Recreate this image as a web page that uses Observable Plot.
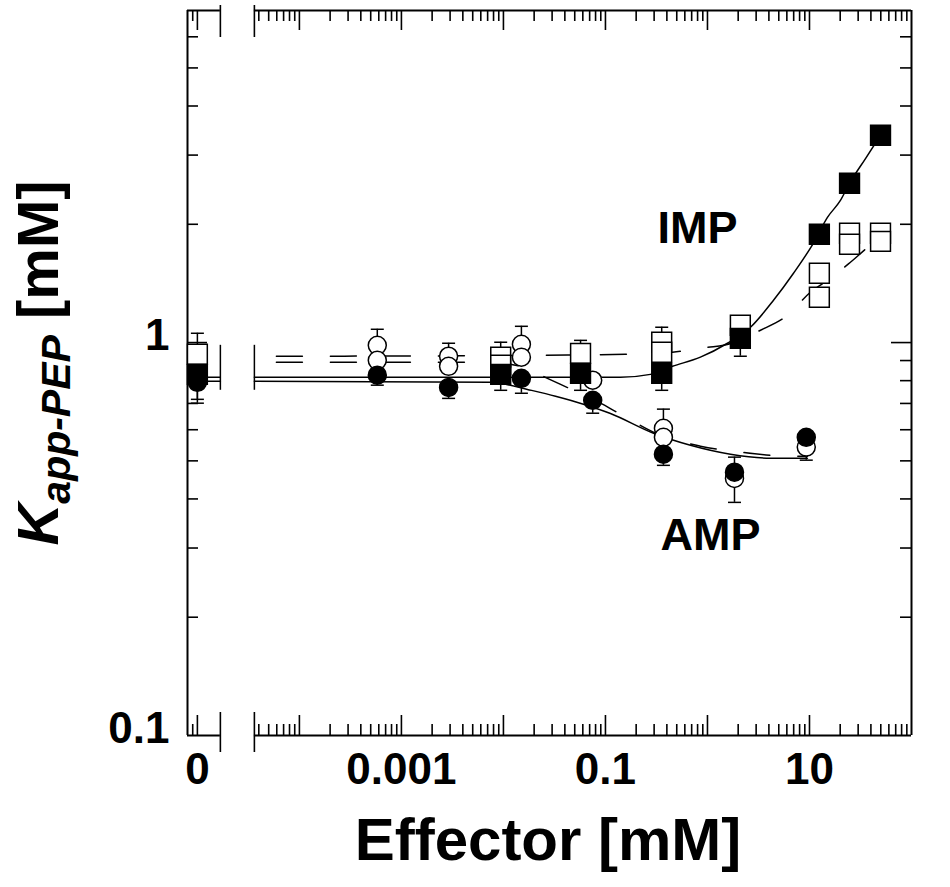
<!DOCTYPE html>
<html>
<head>
<meta charset="utf-8">
<script src="https://cdn.jsdelivr.net/npm/d3@7"></script>
<script src="https://cdn.jsdelivr.net/npm/@observablehq/plot@0.6"></script>
<style>
  html, body { margin: 0; padding: 0; background: #fff; }
  svg { display: block; }
</style>
</head>
<body>
<div id="chart"></div>
<script>
const FONT = "'Liberation Sans', Arial, Helvetica, sans-serif";

// ---- axis definition (broken log axis: "0" drawn at zeroPos) ----
const xMin = 8e-6, xMax = 100, yMin = 0.1, yMax = 7;
const zeroPos = 1e-5;
const breakLo = 1.68e-5, breakHi = 3.62e-5;
const xTickValues = [0, 0.001, 0.1, 10];
const xTickLabels = ["0", "0.001", "0.1", "10"];
const yTickValues = [0.1, 1];
const yTickLabels = ["0.1", "1"];
const xMajor = [1e-5, 1e-4, 1e-3, 1e-2, 1e-1, 1, 10];
const yMajor = [1];

// ---- data: IMP, filled squares ----
const impFilledX   = [0, 0.0094, 0.057, 0.356, 2.1, 12.5, 24.7, 49.7];
const impFilledY   = [0.830, 0.830, 0.835, 0.835, 1.025, 1.887, 2.543, 3.369];
const impFilledErr = [0.717, 0.756, 0.756, 0.756, 0.923, null, null, null];

// ---- data: IMP, open squares ----
const impOpenX   = [0, 0.0094, 0.0094, 0.057, 0.356, 0.356, 2.1, 12.5, 12.5, 24.7, 24.7, 49.7, 49.7];
const impOpenY   = [0.934, 0.918, 0.876, 0.939, 1.002, 0.945, 1.107, 1.501, 1.304, 1.898, 1.779, 1.898, 1.810];
const impOpenErr = [1.056, 1.002, null, 1.013, 1.094, null, null, null, null, null, null, null, null];

// ---- data: AMP, filled circles ----
const ampFilledX   = [0, 0.00058, 0.0029, 0.015, 0.075, 0.37, 1.84, 9.3];
const ampFilledY   = [0.792, 0.826, 0.769, 0.811, 0.713, 0.520, 0.468, 0.574];
const ampFilledErr = [0.701, 0.779, 0.721, 0.743, 0.661, 0.487, 0.392, null];

// ---- data: AMP, open circles ----
const ampOpenX   = [0, 0.00058, 0.00058, 0.0029, 0.0029, 0.015, 0.015, 0.075, 0.37, 0.37, 1.84, 9.3];
const ampOpenY   = [0.896, 0.984, 0.901, 0.923, 0.870, 0.990, 0.918, 0.802, 0.605, 0.574, 0.451, 0.542];
const ampOpenErr = [null, 1.081, null, 0.996, null, 1.100, null, null, 0.677, null, 0.511, 0.502];

// ---- fitted curves (NaN = gap at the axis break) ----
const impSolidX = [0, 1.68e-5, NaN, 3.62e-5, 0.140, 0.276, 0.454, 0.853, 1.57, 2.64, 4.44, 6.97, 10.9, 15.0, 20.1, 24.7, 35.4, 49.7];
const impSolidY = [0.816, 0.816, NaN, 0.816, 0.816, 0.830, 0.870, 0.918, 0.996, 1.094, 1.281, 1.501, 1.789, 2.083, 2.30, 2.543, 2.94, 3.37];
const ampSolidX = [0, 1.68e-5, NaN, 3.62e-5, 0.00746, 0.0105, 0.0172, 0.0324, 0.0608, 0.112, 0.296, 0.681, 1.68, 4.15, 9.55];
const ampSolidY = [0.797, 0.797, NaN, 0.797, 0.792, 0.783, 0.760, 0.730, 0.697, 0.660, 0.588, 0.548, 0.520, 0.508, 0.508];
const impDashX = [3.62e-5, 0.00302, 0.0258, 0.157, 0.454, 1.0, 1.44, 3.31, 6.08, 10.2, 16.1, 25.2, 39.6, 49.7];
const impDashY = [0.923, 0.925, 0.928, 0.934, 0.945, 0.973, 0.984, 1.075, 1.173, 1.343, 1.458, 1.601, 1.769, 1.842];
const ampDashX = [3.62e-5, 0.00596, 0.0117, 0.0184, 0.027, 0.0485, 0.0935, 0.157, 0.346, 0.853, 2.11, 6.51, 9.55];
const ampDashY = [0.891, 0.891, 0.881, 0.850, 0.811, 0.756, 0.697, 0.646, 0.581, 0.545, 0.526, 0.514, 0.514];
const curveBreakY = [0.984, 0.756];

// ---- annotations ----
const annText = ["IMP", "AMP"];
const annX = [0.80, 1.07];
const annY = [1.95, 0.323];

// ---------------------------------------------------------------
const W = 950, H = 887;
const mL = 187, mR = 39, mT = 10, mB = 152;
const frameW = W - mL - mR, frameH = H - mT - mB;

const xpos = (v) => (v === 0 ? zeroPos : v);
const rows = (xs, ys, errs) => xs.map((x, i) => ({x: xpos(x), y: ys[i], err: errs ? errs[i] : null}));
const curve = (xs, ys) => xs.map((x, i) => ({x: Number.isNaN(x) ? NaN : xpos(x), y: ys[i]}));

const impFilled = rows(impFilledX, impFilledY, impFilledErr);
const impOpen = rows(impOpenX, impOpenY, impOpenErr);
const ampFilled = rows(ampFilledX, ampFilledY, ampFilledErr);
const ampOpen = rows(ampOpenX, ampOpenY, ampOpenErr);
const errRows = [...impFilled, ...impOpen, ...ampFilled, ...ampOpen].filter(d => d.err != null);

// minor tick positions
const xMinor = [9e-6];
for (let e = -5; e <= 1; e++) for (let m = 2; m <= 9; m++) {
  const v = m * Math.pow(10, e);
  if (v > breakHi && v < xMax) xMinor.push(v);
}
const yMinor = [];
for (let e = -1; e <= 0; e++) for (let m = 2; m <= 9; m++) {
  const v = m * Math.pow(10, e);
  if (v < yMax) yMinor.push(v);
}
const frameSegs = [{x1: xMin, x2: breakLo}, {x1: breakHi, x2: xMax}];

const capSymbol = {
  draw(ctx, size) {
    const w = Math.sqrt(size / Math.PI);
    ctx.moveTo(-w, 0);
    ctx.lineTo(w, 0);
  }
};

const TW = 1.6; // tick stroke
const plot = Plot.plot({
  width: W, height: H,
  marginLeft: mL, marginRight: mR, marginTop: mT, marginBottom: mB,
  x: {type: "log", domain: [xMin, xMax], axis: null},
  y: {type: "log", domain: [yMin, yMax], axis: null},
  style: {fontFamily: FONT, background: "white", color: "black"},
  marks: [
    // frame
    Plot.ruleX([xMin, xMax], {x: d => d, stroke: "black", strokeWidth: 2}),
    Plot.ruleY(frameSegs, {x1: "x1", x2: "x2", y: () => yMax, stroke: "black", strokeWidth: 2}),
    Plot.ruleY(frameSegs, {x1: "x1", x2: "x2", y: () => yMin, stroke: "black", strokeWidth: 2}),
    // x ticks (inward, top & bottom)
    Plot.tickX(xMinor, {x: d => d, insetBottom: frameH - 11, stroke: "black", strokeWidth: TW}),
    Plot.tickX(xMajor, {x: d => d, insetBottom: frameH - 20, stroke: "black", strokeWidth: TW}),
    Plot.tickX(xMinor, {x: d => d, insetTop: frameH - 11, stroke: "black", strokeWidth: TW}),
    Plot.tickX(xMajor, {x: d => d, insetTop: frameH - 20, stroke: "black", strokeWidth: TW}),
    // y ticks (inward, left & right)
    Plot.tickY(yMinor, {y: d => d, insetRight: frameW - 11, stroke: "black", strokeWidth: TW}),
    Plot.tickY(yMajor, {y: d => d, insetRight: frameW - 20, stroke: "black", strokeWidth: TW}),
    Plot.tickY(yMinor, {y: d => d, insetLeft: frameW - 11, stroke: "black", strokeWidth: TW}),
    Plot.tickY(yMajor, {y: d => d, insetLeft: frameW - 20, stroke: "black", strokeWidth: TW}),
    // axis break markers
    Plot.tickX([breakLo, breakHi], {x: d => d, insetTop: -5, insetBottom: frameH - 27, stroke: "black", strokeWidth: TW}),
    Plot.tickX([breakLo, breakHi], {x: d => d, insetTop: frameH - 23, insetBottom: -17, stroke: "black", strokeWidth: TW}),
    // curve break markers
    Plot.ruleX([breakLo, breakHi], {x: d => d, y1: () => curveBreakY[0], y2: () => curveBreakY[1], stroke: "black", strokeWidth: 1.5}),
    // fitted curves
    Plot.line(curve(impSolidX, impSolidY), {x: "x", y: "y", curve: "monotone-x", stroke: "black", strokeWidth: 1.5}),
    Plot.line(curve(ampSolidX, ampSolidY), {x: "x", y: "y", curve: "monotone-x", stroke: "black", strokeWidth: 1.5}),
    Plot.line(curve(impDashX, impDashY), {x: "x", y: "y", curve: "monotone-x", stroke: "black", strokeWidth: 1.5, strokeDasharray: "26,28", strokeDashoffset: 32}),
    Plot.line(curve(ampDashX, ampDashY), {x: "x", y: "y", curve: "monotone-x", stroke: "black", strokeWidth: 1.5, strokeDasharray: "26,28", strokeDashoffset: 32}),
    // error bars
    Plot.ruleX(errRows, {x: "x", y1: "y", y2: "err", stroke: "black", strokeWidth: 1.5}),
    Plot.dot(errRows, {x: "x", y: "err", r: 6.5, symbol: capSymbol, stroke: "black", fill: "none", strokeWidth: 1.5}),
    // symbols
    Plot.dot(ampOpen, {x: "x", y: "y", r: 9, symbol: "circle", fill: "white", stroke: "black", strokeWidth: 1.5}),
    Plot.dot(ampFilled, {x: "x", y: "y", r: 9, symbol: "circle", fill: "black", stroke: "black", strokeWidth: 1.5}),
    Plot.dot(impOpen, {x: "x", y: "y", r: 11.2, symbol: "square", fill: "white", stroke: "black", strokeWidth: 1.5}),
    Plot.dot(impFilled, {x: "x", y: "y", r: 11.2, symbol: "square", fill: "black", stroke: "black", strokeWidth: 1.5}),
    // tick labels
    Plot.text(xTickValues, {x: d => xpos(d), text: (d, i) => xTickLabels[i], frameAnchor: "bottom", dy: 48,
      fontSize: 44, fontWeight: "bold", fill: "black", textAnchor: "middle"}),
    Plot.text(yTickValues, {y: d => d, text: (d, i) => yTickLabels[i], frameAnchor: "left", dx: -18, dy: -6.5,
      fontSize: 44, fontWeight: "bold", fill: "black", textAnchor: "end"}),
    // annotations
    Plot.text(annText, {x: (d, i) => annX[i], y: (d, i) => annY[i], text: d => d,
      fontSize: 45, fontWeight: "bold", fill: "black"})
  ]
});

const svg = d3.select(plot);
// y-axis title with italic subscript
const yt = svg.append("text")
  .attr("transform", "translate(58,363) rotate(-90)")
  .attr("text-anchor", "middle")
  .style("font-family", FONT)
  .style("font-weight", "bold")
  .style("font-size", "58px")
  .attr("fill", "black");
yt.append("tspan").style("font-style", "italic").text("K");
yt.append("tspan").style("font-style", "italic").style("font-size", "41px").attr("dy", 12).text("app-PEP");
yt.append("tspan").attr("dy", -12).text(" [mM]");
// x-axis title
svg.append("text")
  .attr("x", 548).attr("y", 860)
  .attr("text-anchor", "middle")
  .style("font-family", FONT)
  .style("font-weight", "bold")
  .style("font-size", "60px")
  .attr("fill", "black")
  .text("Effector [mM]");

document.getElementById("chart").appendChild(plot);
</script>
</body>
</html>
